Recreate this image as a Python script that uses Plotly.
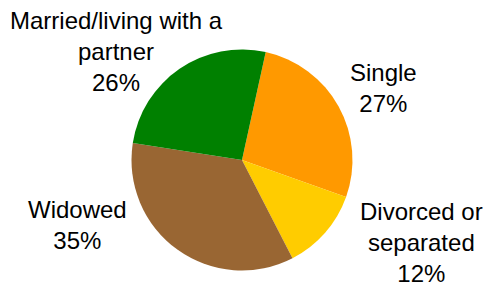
import plotly.graph_objects as go

labels = ["Single", "Divorced or separated", "Widowed", "Married/living with a partner"]
display_labels = ["Single", "Divorced or<br>separated", "Widowed", "Married/living with a<br>partner"]
values = [27, 12, 35, 26]
colors = ["#FF9900", "#FFCC00", "#996633", "#008000"]

# label anchor positions (paper coords)
label_x = [0.7897, 0.8701, 0.1588, 0.2392]
label_y = [0.6944, 0.1563, 0.2188, 0.8229]

fig = go.Figure(go.Pie(
    labels=labels,
    values=values,
    marker=dict(colors=colors, line=dict(width=0)),
    sort=False,
    direction="clockwise",
    rotation=12.4,
    textinfo="none",
    hoverinfo="label+percent",
    domain=dict(x=[0.2711, 0.7268], y=[0.0608, 0.8281]),
    showlegend=False,
))

total = sum(values)
for lab, v, x, y in zip(display_labels, values, label_x, label_y):
    fig.add_annotation(
        x=x, y=y, xref="paper", yref="paper",
        text=f"{lab}<br>{round(100*v/total)}%",
        showarrow=False, xanchor="center", yanchor="middle",
        align="center",
        font=dict(family="Liberation Sans, Arial, sans-serif", size=24, color="black"),
    )

fig.update_layout(
    width=485, height=288,
    margin=dict(l=0, r=0, t=0, b=0),
    paper_bgcolor="white", plot_bgcolor="white",
)
fig.write_html(
    "out.html",
    config={"displayModeBar": False},
    post_script="document.body.style.margin='0';document.body.style.overflow='hidden';",
)
